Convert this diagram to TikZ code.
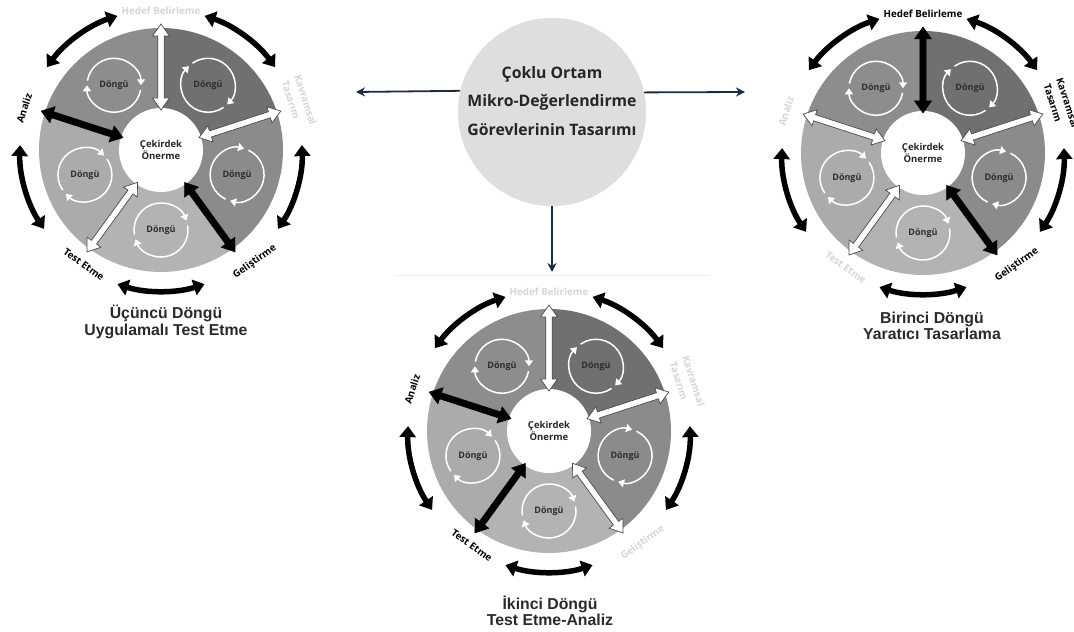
\documentclass[tikz,border=0pt]{standalone}
\usepackage{fontspec}
\setmainfont{Open Sans}
\newfontfamily\titlefont{Liberation Sans}
\usetikzlibrary{arrows.meta}

\definecolor{navy}{HTML}{1B2A47}
\definecolor{secA}{HTML}{8D8D8D}
\definecolor{secB}{HTML}{707070}
\definecolor{secC}{HTML}{8B8B8B}
\definecolor{secD}{HTML}{B3B3B3}
\definecolor{secE}{HTML}{ABABAB}
\definecolor{labfade}{HTML}{D6D6D6}
\definecolor{spokeedge}{HTML}{4A4A4A}
\definecolor{loopink}{HTML}{2E2E2E}
\definecolor{hubfill}{HTML}{DEDEDE}
\definecolor{titleink}{HTML}{2A2A2A}
\definecolor{framefade}{HTML}{EFEFEF}

\tikzset{
  onlab/.style={text=black},
  offlab/.style={text=labfade},
  spokeblack/.style={fill=black, draw=black, line width=0.5pt},
  spokewhite/.style={fill=white, draw=spokeedge, line width=0.7pt},
  steplabel/.style={font=\bfseries\fontsize{9.8}{11}\selectfont, inner sep=0pt},
  looptext/.style={font=\bfseries\fontsize{9}{10}\selectfont, text=loopink, inner sep=0pt},
  coretext/.style={font=\bfseries\fontsize{9.5}{11.5}\selectfont, text=black!85, inner sep=0pt, align=center},
  ring/.style={draw=white, line width=1.5pt, -{Triangle[width=8pt,length=6pt]}},
  cyclearrow/.style={draw=black, line width=5.5pt, {Triangle[width=16pt,length=11pt]}-{Triangle[width=16pt,length=11pt]}},
  hub/.style={circle, fill=hubfill, minimum size=188pt, inner sep=0pt},
  hubtext/.style={font=\bfseries\fontsize{15.8}{28.5}\selectfont, text=black!85, align=center, inner sep=0pt},
  hubarrow/.style={draw=navy, line width=1.8pt, -{Stealth[length=9pt,width=9pt]}},
  wheeltitle/.style={font=\titlefont\bfseries\fontsize{15.8}{16.5}\selectfont, text=titleink, align=center, inner sep=0pt},
}

% fat double-headed spoke from the core circle out past the rim
\newcommand\spoke[3]{%
  \path[#3, shift={(#1)}, rotate=#2]
    (40,0) -- (52,8.5) -- (52,3.2) -- (114,3.2) -- (114,8.5) -- (126,0)
    -- (114,-8.5) -- (114,-3.2) -- (52,-3.2) -- (52,-8.5) -- cycle;}

% one cycle wheel centred on coordinate #1
\newcommand\wheel[1]{%
  \foreach \a/\b/\c in {90/162/secA, 18/90/secB, -54/18/secC, -126/-54/secD, -198/-126/secE}
    \fill[\c] (#1) -- ++(\a:122) arc[start angle=\a, end angle=\b, radius=122] -- cycle;
  \fill[white] (#1) circle[radius=42];
  \node[coretext] (#1-core) at (#1) {Çekirdek\\Önerme};
  \foreach \m/\h [count=\i] in {126/180, 54/135, -18/75, -90/20, 198/45} {
    \draw[ring] (#1) ++(\m:80) ++(\h+170:27) arc[start angle=\h+170, end angle=\h, radius=27];
    \draw[ring] (#1) ++(\m:80) ++(\h+350:27) arc[start angle=\h+350, end angle=\h+180, radius=27];
    \node[looptext] (#1-loop\i) at ([shift={(\m:80)}]#1) {Döngü};
  }
  \spoke{#1}{90}{hedefspk}
  \spoke{#1}{18}{kavspk}
  \spoke{#1}{-54}{gelspk}
  \spoke{#1}{-126}{testspk}
  \spoke{#1}{162}{anspk}
  \node[steplabel, hedeflab] (#1-hedef) at ([shift={(90:139)}]#1) {Hedef Belirleme};
  \node[steplabel, kavlab, rotate=-72] (#1-kav) at ([shift={(19:153)}]#1) {Kavramsal};
  \node[steplabel, kavlab, rotate=-72] (#1-tas) at ([shift={(21:139)}]#1) {Tasarım};
  \node[steplabel, gellab, rotate=36] (#1-gel) at ([shift={(-50:146)}]#1) {Geliştirme};
  \node[steplabel, testlab, rotate=-36] (#1-test) at ([shift={(-124:138)}]#1) {Test Etme};
  \node[steplabel, anlab, rotate=72] (#1-an) at ([shift={(163:143)}]#1) {Analiz};
  \foreach \m in {126,54,-16,-90,-164}
    \draw[cyclearrow] (#1) ++(\m+18:141) arc[start angle=\m+18, end angle=\m-18, radius=141];
}

\begin{document}
\begin{tikzpicture}[x=1pt, y=1pt]
\useasboundingbox (0,0) rectangle (1074,632);
\fill[white] (0,0) rectangle (1074,632);

% faint edge of the lower panel
\draw[framefade, line width=0.8pt] (395,357) -- (710,357);

% wheel centres
\coordinate (w1) at (161,482);
\coordinate (w2) at (923,479);
\coordinate (w3) at (549,201);

% third cycle: applied testing
\begin{scope}[hedeflab/.style=offlab, kavlab/.style=offlab, gellab/.style=onlab,
              testlab/.style=onlab, anlab/.style=onlab,
              hedefspk/.style=spokewhite, kavspk/.style=spokewhite, gelspk/.style=spokeblack,
              testspk/.style=spokewhite, anspk/.style=spokeblack]
  \wheel{w1}
\end{scope}

% first cycle: creative design
\begin{scope}[hedeflab/.style=onlab, kavlab/.style=onlab, gellab/.style=onlab,
              testlab/.style=offlab, anlab/.style=offlab,
              hedefspk/.style=spokeblack, kavspk/.style=spokewhite, gelspk/.style=spokeblack,
              testspk/.style=spokewhite, anspk/.style=spokewhite]
  \wheel{w2}
\end{scope}

% second cycle: testing and analysis
\begin{scope}[hedeflab/.style=offlab, kavlab/.style=offlab, gellab/.style=offlab,
              testlab/.style=onlab, anlab/.style=onlab,
              hedefspk/.style=spokewhite, kavspk/.style=spokewhite, gelspk/.style=spokewhite,
              testspk/.style=spokeblack, anspk/.style=spokeblack]
  \wheel{w3}
\end{scope}

% titles under the wheels
\node[wheeltitle] (t1) at (166,310) {Üçüncü Döngü\\Uygulamalı Test Etme};
\node[wheeltitle] (t2) at (932,306) {Birinci Döngü\\Yaratıcı Tasarlama};
\node[wheeltitle] (t3) at (550,21) {İkinci Döngü\\Test Etme-Analiz};

% central task node and its three outgoing arrows
\node[hub] (hub) at (552,520) {};
\node[hubtext] (hubtext) at (552,531) {Çoklu Ortam\\Mikro-Değerlendirme\\Görevlerinin Tasarımı};
\coordinate (w1in) at (356,540);
\coordinate (w2in) at (745,540);
\coordinate (w3in) at (552,360);
\draw[hubarrow] (hub.167.7) -- (w1in);
\draw[hubarrow] (hub.12.3) -- (w2in);
\draw[hubarrow] (hub.south) -- (w3in);
\end{tikzpicture}
\end{document}
